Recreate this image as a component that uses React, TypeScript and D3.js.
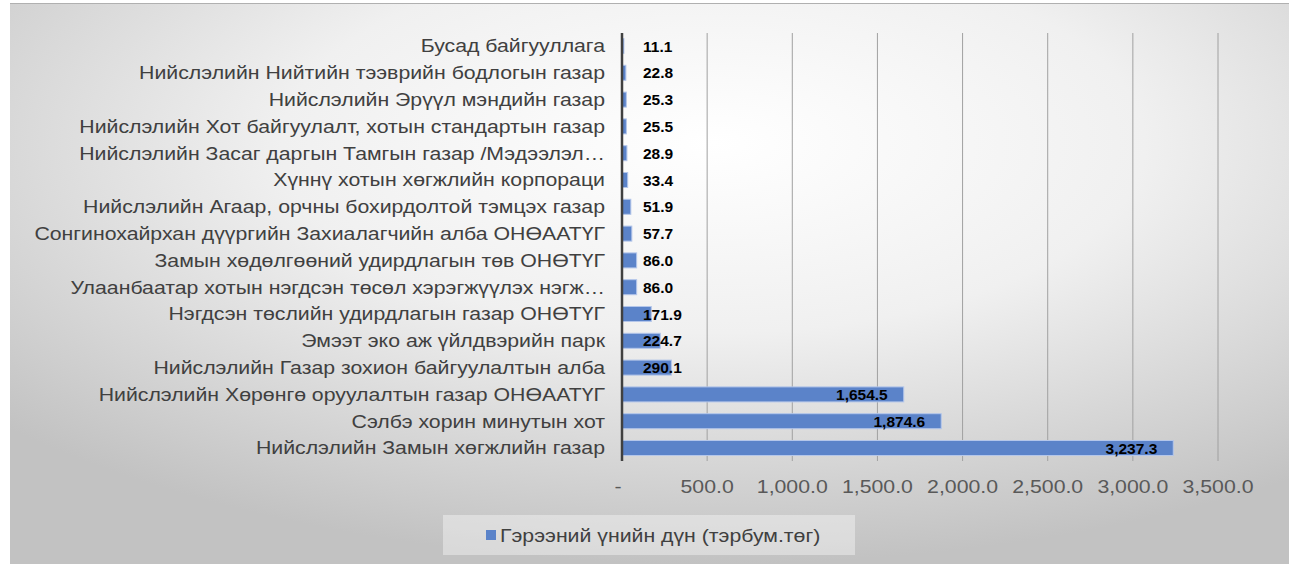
import React from 'react';
import * as d3 from 'd3';

const categories = [
  'Бусад байгууллага',
  'Нийслэлийн Нийтийн тээврийн бодлогын газар',
  'Нийслэлийн Эрүүл мэндийн газар',
  'Нийслэлийн Хот байгуулалт, хотын стандартын газар',
  'Нийслэлийн Засаг даргын Тамгын газар /Мэдээлэл…',
  'Хүннү хотын хөгжлийн корпораци',
  'Нийслэлийн Агаар, орчны бохирдолтой тэмцэх газар',
  'Сонгинохайрхан дүүргийн Захиалагчийн алба ОНӨААТҮГ',
  'Замын хөдөлгөөний удирдлагын төв ОНӨТҮГ',
  'Улаанбаатар хотын нэгдсэн төсөл хэрэгжүүлэх нэгж…',
  'Нэгдсэн төслийн удирдлагын газар ОНӨТҮГ',
  'Эмээт эко аж үйлдвэрийн парк',
  'Нийслэлийн Газар зохион байгуулалтын алба',
  'Нийслэлийн Хөрөнгө оруулалтын газар ОНӨААТҮГ',
  'Сэлбэ хорин минутын хот',
  'Нийслэлийн Замын хөгжлийн газар',
];
const values = [11.1, 22.8, 25.3, 25.5, 28.9, 33.4, 51.9, 57.7, 86.0, 86.0, 171.9, 224.7, 290.1, 1654.5, 1874.6, 3237.3];
const ticks = [0, 500, 1000, 1500, 2000, 2500, 3000, 3500];
const seriesName = 'Гэрээний үнийн дүн (тэрбум.төг)';

const W = 1289;
const H = 564;
const font = '"Liberation Sans", Arial, sans-serif';
const SX = 1.15; // the reference text is a little wider than Arial

const fmt = (v: number) => (v === 0 ? '-' : d3.format(',.1f')(v));

// rough width of bold Arial text
const boldWidth = (s: string, size: number) =>
  s.split('').reduce((w, ch) => w + (ch === ',' || ch === '.' ? 0.278 : 0.556), 0) * size;

export default function App() {
  const x = d3.scaleLinear().domain([0, 3500]).range([622, 1218]);
  const y = d3.scaleBand().domain(categories).range([32.6, 461.4]).paddingInner(0.44).paddingOuter(0.22);
  const bw = y.bandwidth();

  return (
    <svg width={W} height={H} style={{ position: 'absolute', left: 0, top: 0, fontFamily: font }}>
      <defs>
        <radialGradient id="bg" cx="55%" cy="25%" r="75%">
          <stop offset="0%" stopColor="#ffffff" />
          <stop offset="45%" stopColor="#f0f0f0" />
          <stop offset="100%" stopColor="#c2c2c2" />
        </radialGradient>
      </defs>
      <rect x={0} y={0} width={W} height={H} fill="#fff" />
      <rect x={10} y={3} width={W - 10} height={H - 3} fill="url(#bg)" />
      <line x1={10} x2={W} y1={3.5} y2={3.5} stroke="#b0b0b0" strokeWidth={1} />

      {ticks.slice(1).map((t) => (
        <line key={t} x1={x(t)} x2={x(t)} y1={33} y2={461} stroke="#a0a0a0" strokeWidth={1} />
      ))}

      {categories.map((c, i) => {
        const v = values[i];
        const yc = (y(c) as number) + bw / 2;
        return (
          <g key={c}>
            <rect
              x={x(0)}
              y={y(c)}
              width={x(v) - x(0)}
              height={bw}
              fill="#5b83c9"
              stroke="#b4c6ea"
              strokeWidth={1}
            />
            <g transform={`translate(605,${yc}) scale(${SX},1)`}>
              <text x={0} y={0} dy="0.35em" textAnchor="end" fontSize={18.5} fill="#404040">
                {c}
              </text>
            </g>
          </g>
        );
      })}

      <line x1={x(0)} x2={x(0)} y1={33} y2={461} stroke="#404040" strokeWidth={2.5} />

      {categories.map((c, i) => {
        const v = values[i];
        const yc = (y(c) as number) + bw / 2;
        const label = fmt(v);
        const tw = boldWidth(label, 15.5);
        const endX = x(v) - 16;
        const inside = endX - tw >= 643;
        return (
          <text
            key={'l' + c}
            x={inside ? endX : 643}
            y={yc}
            dy="0.36em"
            textAnchor={inside ? 'end' : 'start'}
            fontSize={15.5}
            fontWeight="bold"
            fill="#000"
          >
            {label}
          </text>
        );
      })}

      {ticks.map((t) => (
        <g key={'t' + t} transform={`translate(${t === 0 ? 618 : x(t)},487) scale(${SX},1)`}>
          <text x={0} y={0} dy="0.35em" textAnchor="middle" fontSize={18.5} fill="#595959">
            {fmt(t)}
          </text>
        </g>
      ))}

      <rect x={443} y={515} width={412} height={40} fill="#f6f6f6" opacity={0.45} />
      <rect x={486} y={530} width={10} height={10} fill="#5b83c9" />
      <g transform={`translate(500,536) scale(${SX},1)`}>
        <text x={0} y={0} dy="0.35em" fontSize={18.5} fill="#404040">
          {seriesName}
        </text>
      </g>
    </svg>
  );
}
